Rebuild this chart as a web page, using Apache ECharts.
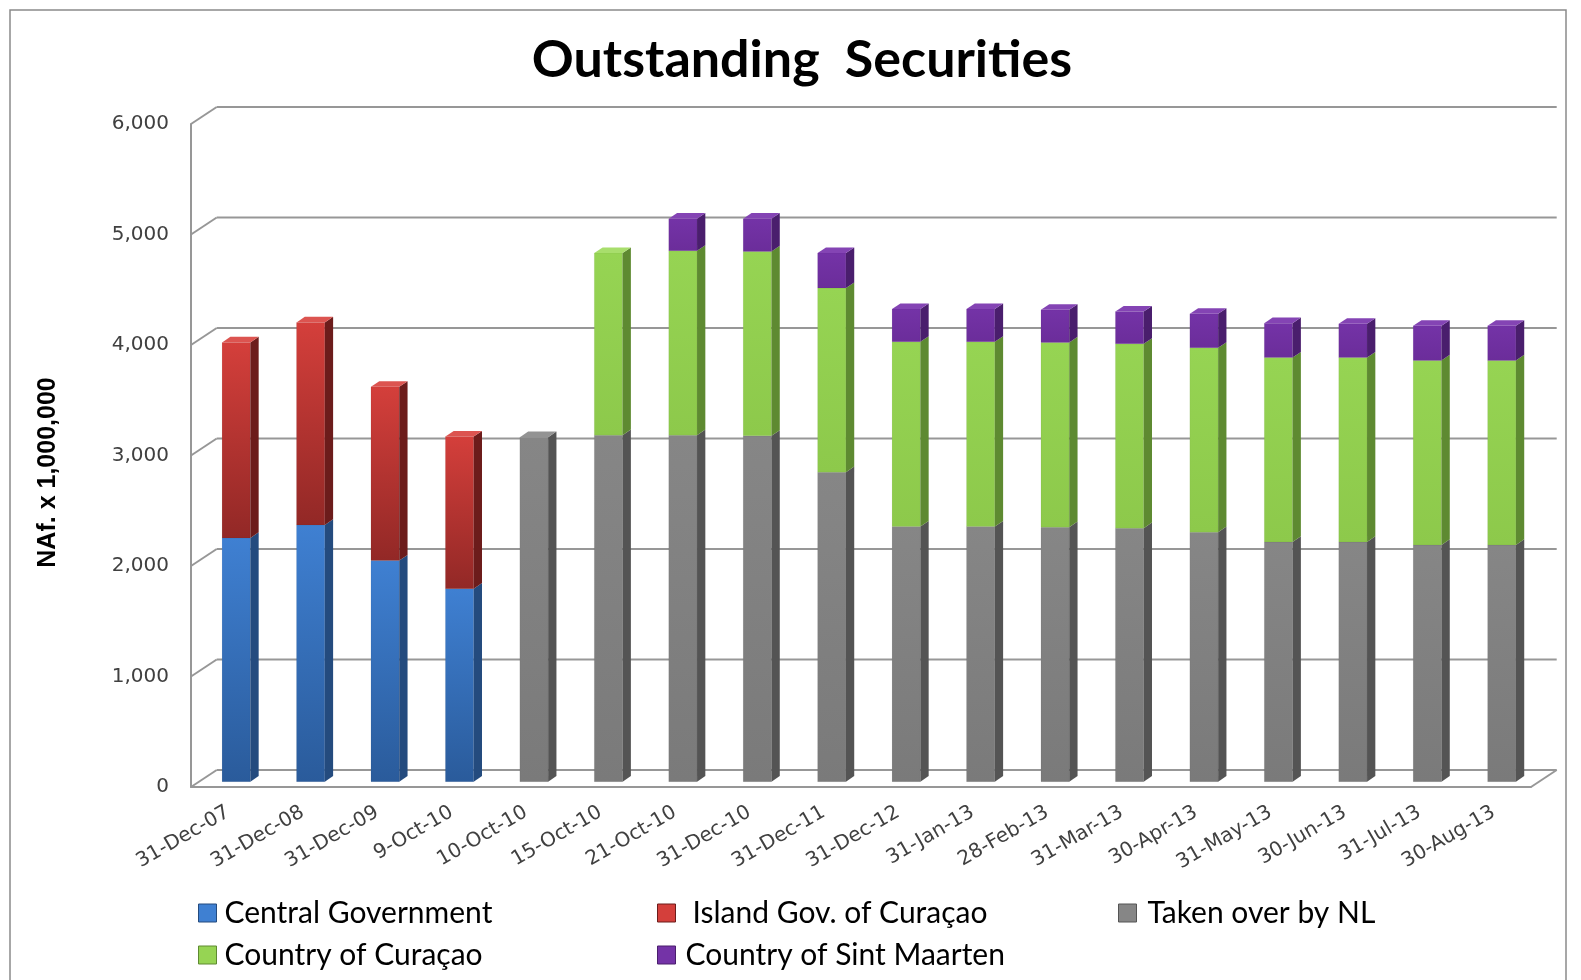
<!DOCTYPE html>
<html><head><meta charset="utf-8">
<script src="https://cdn.jsdelivr.net/npm/echarts@6/dist/echarts.min.js"></script>
<style>html,body{margin:0;padding:0;background:#fff}#c{width:1581px;height:980px}</style>
</head><body><div id="c"></div>
<script>
const categories = ['31-Dec-07','31-Dec-08','31-Dec-09','9-Oct-10','10-Oct-10','15-Oct-10','21-Oct-10','31-Dec-10','31-Dec-11','31-Dec-12','31-Jan-13','28-Feb-13','31-Mar-13','30-Apr-13','31-May-13','30-Jun-13','31-Jul-13','30-Aug-13'];
const centralGovernment  = [2206,2324,2001,1747,0,0,0,0,0,0,0,0,0,0,0,0,0,0];
const islandGovCuracao   = [1769,1832,1573,1377,0,0,0,0,0,0,0,0,0,0,0,0,0,0];
const takenOverByNL      = [0,0,0,0,3118,3136,3136,3130,2801,2309,2309,2303,2294,2258,2170,2170,2143,2143];
const countryCuracao     = [0,0,0,0,0,1648,1669,1669,1666,1672,1672,1672,1669,1669,1669,1669,1669,1669];
const countrySintMaarten = [0,0,0,0,0,0,290,296,317,296,296,296,292,307,311,305,314,314];
const yTicks = [0,1000,2000,3000,4000,5000,6000];
const seriesNames = ['Central Government','Island Gov. of Curaçao','Taken over by NL','Country of Curaçao','Country of Sint Maarten'];
const seriesValues = [centralGovernment, islandGovCuracao, takenOverByNL, countryCuracao, countrySintMaarten];

const styles = [
  {top:'#3f80d2', bottom:'#2a5b9b', side:'#244b7e', cap:'#5390da'},
  {top:'#d43f3b', bottom:'#922826', side:'#6c1c1b', cap:'#dc5450'},
  {top:'#868686', bottom:'#7a7a7a', side:'#545454', cap:'#939393'},
  {top:'#96d453', bottom:'#8dc94b', side:'#5e8a31', cap:'#a8de6c'},
  {top:'#7433a7', bottom:'#6b2d9a', side:'#4a1e6d', cap:'#8444b4'}
];

const WALL_DX = 25.7, WALL_DY = -17;
const BAR_OX = 8, BAR_OY = -5.3;
const DEPTH_X = 8.3, DEPTH_Y = -5.6;

const topIndex = categories.map((_, i) => {
  let t = -1;
  seriesValues.forEach((arr, k) => { if (arr[i] > 0) t = k; });
  return t;
});

function stackData(k) {
  return categories.map((_, i) => {
    let lo = 0;
    for (let j = 0; j < k; j++) lo += seriesValues[j][i];
    return [i, lo, lo + seriesValues[k][i]];
  });
}

function makeBarSeries(k) {
  const st = styles[k];
  return {
    type: 'custom',
    name: seriesNames[k],
    coordinateSystem: 'cartesian2d',
    encode: {x: 0, y: [1, 2]},
    clip: false,
    z: 5,
    itemStyle: {color: st.top},
    data: stackData(k),
    renderItem: function (params, api) {
      const i = api.value(0), lo = api.value(1), hi = api.value(2);
      if (!(hi > lo)) return null;
      const p0 = api.coord([i, lo]);
      const p1 = api.coord([i, hi]);
      const bw = api.size([1, 0])[0] * 0.38;
      const x0 = p0[0] - bw / 2 + BAR_OX, x1 = x0 + bw;
      const yb = p0[1] + BAR_OY, yt = p1[1] + BAR_OY;
      const children = [
        {type: 'rect', shape: {x: x0, y: yt, width: bw, height: yb - yt},
         style: {fill: new echarts.graphic.LinearGradient(0, 0, 0, 1, [
           {offset: 0, color: st.top}, {offset: 1, color: st.bottom}]),
           stroke: 'rgba(0,0,0,0.08)', lineWidth: 0.6}},
        {type: 'polygon', shape: {points: [[x1, yb], [x1 + DEPTH_X, yb + DEPTH_Y], [x1 + DEPTH_X, yt + DEPTH_Y], [x1, yt]]},
         style: {fill: st.side}}
      ];
      if (topIndex[i] === k) {
        children.push({type: 'polygon', shape: {points: [[x0, yt], [x0 + DEPTH_X, yt + DEPTH_Y], [x1 + DEPTH_X, yt + DEPTH_Y], [x1, yt]]},
          style: {fill: st.cap}});
      }
      return {type: 'group', children: children};
    }
  };
}

const wallSeries = {
  type: 'custom',
  name: 'walls',
  coordinateSystem: 'cartesian2d',
  encode: {x: 0, y: 1},
  clip: false,
  silent: true,
  z: 1,
  data: yTicks.map(v => [0, v]),
  renderItem: function (params, api) {
    const cs = params.coordSys;
    const v = api.value(1);
    const y = api.coord([0, v])[1];
    const xl = cs.x, xr = cs.x + cs.width;
    const ls = {stroke: '#979797', lineWidth: 2};
    const ch = [
      {type: 'line', shape: {x1: xl, y1: y, x2: xl + WALL_DX, y2: y + WALL_DY}, style: ls},
      {type: 'line', shape: {x1: xl + WALL_DX, y1: y + WALL_DY, x2: xr + WALL_DX, y2: y + WALL_DY}, style: ls}
    ];
    if (v === 0) {
      ch.push({type: 'line', shape: {x1: xr, y1: y, x2: xr + WALL_DX, y2: y + WALL_DY}, style: ls});
    }
    return {type: 'group', children: ch};
  }
};

const legendPos = [
  {left: 193, top: 893, pad: 3},
  {left: 652, top: 893, pad: 12},
  {left: 1113, top: 893, pad: 6},
  {left: 193, top: 935, pad: 3},
  {left: 652, top: 935, pad: 5}
];

const chart = echarts.init(document.getElementById('c'));
chart.setOption({
  backgroundColor: '#ffffff',
  animation: false,
  title: {
    text: 'Outstanding  Securities',
    left: 797, top: 29, textAlign: 'center',
    textStyle: {fontFamily: 'Lato', fontWeight: 'bold', fontSize: 52, color: '#000'}
  },
  graphic: [{type: 'rect', shape: {x: 10, y: 10, width: 1556, height: 1000},
    style: {fill: 'none', stroke: '#8a8a8a', lineWidth: 1.5}, silent: true, z: -10}],
  legend: seriesNames.map((name, k) => ({
    left: legendPos[k].left, top: legendPos[k].top,
    orient: 'horizontal',
    itemWidth: 18, itemHeight: 18,
    icon: 'rect',
    selectedMode: false,
    data: [{name: name, itemStyle: {color: styles[k].top, borderColor: styles[k].side, borderWidth: 1}}],
    textStyle: {fontFamily: 'Lato', fontSize: 30, color: '#000', padding: [0, 0, 0, legendPos[k].pad]}
  })),
  grid: {left: 191, right: 50, top: 124, bottom: 193, containLabel: false},
  xAxis: {
    type: 'category',
    data: categories,
    boundaryGap: true,
    axisLine: {show: true, lineStyle: {color: '#979797', width: 2}},
    axisTick: {show: false},
    splitLine: {show: false},
    axisLabel: {interval: 0, rotate: 30, margin: 24, fontFamily: 'DejaVu Sans', fontSize: 20, color: '#404040'}
  },
  yAxis: {
    type: 'value',
    min: 0, max: 6000, interval: 1000,
    name: 'NAf. x 1,000,000',
    nameLocation: 'middle',
    nameRotate: 90,
    nameGap: 130,
    nameTextStyle: {fontFamily: 'Liberation Sans', fontWeight: 'bold', fontSize: 25, color: '#000', padding: [0, 34, 0, 0]},
    axisLine: {show: true, lineStyle: {color: '#979797', width: 2}},
    axisTick: {show: false},
    splitLine: {show: false},
    axisLabel: {margin: 22, fontFamily: 'DejaVu Sans', fontSize: 20, color: '#404040',
      formatter: v => v.toLocaleString('en-US')}
  },
  series: [wallSeries].concat(seriesNames.map((_, k) => makeBarSeries(k)))
});
</script>
</body></html>
